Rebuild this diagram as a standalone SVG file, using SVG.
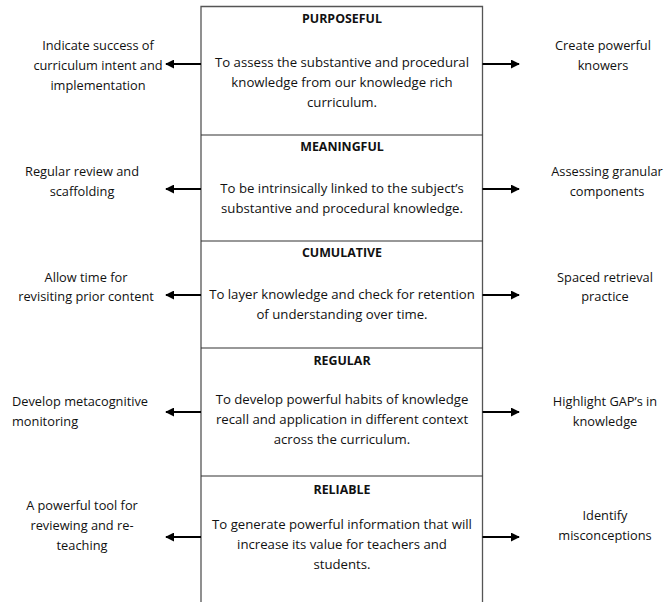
<svg xmlns="http://www.w3.org/2000/svg" width="669" height="602" viewBox="0 0 669 602">
<style>
text{font-family:"Open Sans","Liberation Sans",sans-serif;font-size:12.8px;fill:#111;text-anchor:middle}
.b{font-size:13.2px}
.t{font-weight:bold;font-size:12.4px}
.l{text-anchor:start}
.box{stroke:#555;stroke-width:1.3;fill:none}
.div{stroke:#333;stroke-width:1.2}
.arr{stroke:#000;stroke-width:2;fill:none;marker-end:url(#ah)}
</style>
<defs>
<marker id="ah" viewBox="0 0 10 10" refX="9" refY="5" markerWidth="4.5" markerHeight="4.5" orient="auto" markerUnits="strokeWidth">
<path d="M0,0 L10,5 L0,10 z" fill="#000"/>
</marker>
</defs>
<rect width="669" height="602" fill="#fff"/>
<g id="frame">
<path class="box" d="M201,602 V6.5 H482.5 V602"/>
<line class="div" x1="201" y1="135" x2="482.5" y2="135"/>
<line class="div" x1="201" y1="241" x2="482.5" y2="241"/>
<line class="div" x1="201" y1="348" x2="482.5" y2="348"/>
<line class="div" x1="201" y1="476" x2="482.5" y2="476"/>
</g>
<g id="connectors">
<line class="arr" x1="201" y1="64" x2="166" y2="64"/>
<line class="arr" x1="482.5" y1="64" x2="519" y2="64"/>
<line class="arr" x1="201" y1="189" x2="166" y2="189"/>
<line class="arr" x1="482.5" y1="189" x2="519" y2="189"/>
<line class="arr" x1="201" y1="295" x2="166" y2="295"/>
<line class="arr" x1="482.5" y1="295" x2="519" y2="295"/>
<line class="arr" x1="201" y1="412" x2="166" y2="412"/>
<line class="arr" x1="482.5" y1="412" x2="519" y2="412"/>
<line class="arr" x1="201" y1="537" x2="166" y2="537"/>
<line class="arr" x1="482.5" y1="537" x2="519" y2="537"/>
</g>
<g id="purposeful">
<text class="t" x="342" y="23">PURPOSEFUL</text>
<text class="b" x="342" y="67">To assess the substantive and procedural</text>
<text class="b" x="342" y="87">knowledge from our knowledge rich</text>
<text class="b" x="342" y="107">curriculum.</text>
</g>
<g id="meaningful">
<text class="t" x="342" y="151">MEANINGFUL</text>
<text class="b" x="342" y="193">To be intrinsically linked to the subject’s</text>
<text class="b" x="342" y="213">substantive and procedural knowledge.</text>
</g>
<g id="cumulative">
<text class="t" x="342" y="257">CUMULATIVE</text>
<text class="b" x="342" y="299">To layer knowledge and check for retention</text>
<text class="b" x="342" y="319">of understanding over time.</text>
</g>
<g id="regular">
<text class="t" x="342" y="365">REGULAR</text>
<text class="b" x="342" y="404">To develop powerful habits of knowledge</text>
<text class="b" x="342" y="424">recall and application in different context</text>
<text class="b" x="342" y="444">across the curriculum.</text>
</g>
<g id="reliable">
<text class="t" x="342" y="494">RELIABLE</text>
<text class="b" x="342" y="529">To generate powerful information that will</text>
<text class="b" x="342" y="549">increase its value for teachers and</text>
<text class="b" x="342" y="569">students.</text>
</g>
<g id="left-purposeful">
<text x="98" y="50">Indicate success of</text>
<text x="98" y="70">curriculum intent and</text>
<text x="98" y="90">implementation</text>
</g>
<g id="left-meaningful">
<text x="82" y="176">Regular review and</text>
<text x="82" y="196">scaffolding</text>
</g>
<g id="left-cumulative">
<text x="86" y="282">Allow time for</text>
<text x="86" y="301">revisiting prior content</text>
</g>
<g id="left-regular">
<text class="l" x="12" y="406">Develop metacognitive</text>
<text class="l" x="12" y="426">monitoring</text>
</g>
<g id="left-reliable">
<text x="82" y="510">A powerful tool for</text>
<text x="82" y="530">reviewing and re-</text>
<text x="82" y="550">teaching</text>
</g>
<g id="right-purposeful">
<text x="603" y="50">Create powerful</text>
<text x="603" y="70">knowers</text>
</g>
<g id="right-meaningful">
<text x="607" y="176">Assessing granular</text>
<text x="607" y="196">components</text>
</g>
<g id="right-cumulative">
<text x="605" y="282">Spaced retrieval</text>
<text x="605" y="301">practice</text>
</g>
<g id="right-regular">
<text x="605" y="406">Highlight GAP’s in</text>
<text x="605" y="426">knowledge</text>
</g>
<g id="right-reliable">
<text x="605" y="520">Identify</text>
<text x="605" y="540">misconceptions</text>
</g>
</svg>
